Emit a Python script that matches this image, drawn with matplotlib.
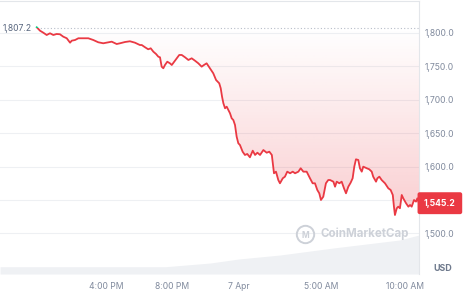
import matplotlib
matplotlib.use("Agg")
import matplotlib.pyplot as plt
import numpy as np
from matplotlib.colors import to_rgb
from matplotlib.patches import Rectangle
import matplotlib.transforms as mtransforms

# ---- data (hours since 6 Apr 00:00) ----
time_h = [11.83, 12.03, 12.23, 12.43, 12.63, 12.83, 13.03, 13.23, 13.43, 13.64,
          13.84, 13.94, 14.14, 14.34, 14.64, 14.94, 15.24, 15.54, 15.84, 16.14,
          16.35, 16.65, 16.85, 17.15, 17.45, 17.75, 18.05, 18.16, 18.36, 18.55,
          18.70, 18.86, 19.02, 19.16, 19.26, 19.36, 19.46, 19.56, 19.70, 19.86,
          19.97, 20.12, 20.27, 20.42, 20.57, 20.77, 20.97, 21.17, 21.37, 21.57,
          21.77, 21.91, 22.07, 22.27, 22.47, 22.64, 22.74, 22.83, 22.92, 23.00,
          23.08, 23.18, 23.28, 23.38, 23.48, 23.58, 23.68, 23.78, 23.88, 23.98,
          24.08, 24.24, 24.38, 24.52, 24.68, 24.85, 24.99, 25.13, 25.29, 25.49,
          25.69, 25.85, 26.00, 26.13, 26.25, 26.39, 26.49, 26.66, 26.79, 26.93,
          27.10, 27.26, 27.40, 27.60, 27.74, 27.90, 28.10, 28.30, 28.46, 28.60,
          28.74, 28.86, 28.96, 29.10, 29.26, 29.40, 29.51, 29.71, 29.81, 29.91,
          30.07, 30.21, 30.35, 30.47, 30.61, 30.75, 30.87, 30.97, 31.07, 31.21,
          31.31, 31.42, 31.51, 31.72, 31.87, 32.02, 32.11, 32.28, 32.36, 32.48,
          32.62, 32.82, 33.02, 33.16, 33.29, 33.36, 33.42, 33.53, 33.62, 33.72,
          33.83, 33.92, 34.09, 34.23, 34.33, 34.43, 34.57, 34.69, 34.77, 34.87]
price = [1808.6, 1803.4, 1800.4, 1797.0, 1799.6, 1797.0, 1798.5, 1798.1, 1794.5, 1792.1,
         1785.5, 1788.5, 1789.5, 1792.1, 1792.1, 1792.1, 1789.5, 1786.1, 1784.6, 1786.1,
         1787.0, 1783.5, 1784.6, 1786.5, 1787.6, 1785.5, 1782.0, 1782.0, 1778.6, 1775.6,
         1777.1, 1772.0, 1768.6, 1764.5, 1763.6, 1749.6, 1747.2, 1752.1, 1757.0, 1754.6,
         1752.1, 1757.0, 1762.1, 1767.1, 1767.1, 1763.6, 1759.6, 1762.1, 1758.5, 1754.6,
         1749.6, 1752.1, 1754.6, 1747.2, 1739.7, 1729.6, 1727.1, 1724.7, 1717.2, 1704.6,
         1694.8, 1687.3, 1689.7, 1684.7, 1679.8, 1672.3, 1669.7, 1662.3, 1644.8, 1634.9,
         1632.3, 1622.3, 1617.4, 1618.9, 1613.9, 1623.8, 1617.4, 1620.8, 1617.4, 1624.8,
         1620.8, 1622.3, 1617.4, 1590.0, 1592.4, 1579.9, 1575.0, 1582.5, 1584.9, 1592.4,
         1590.0, 1592.4, 1590.0, 1592.4, 1597.5, 1592.4, 1592.4, 1582.5, 1575.0, 1575.0,
         1565.0, 1560.0, 1550.0, 1554.9, 1575.0, 1579.9, 1579.9, 1577.4, 1569.9, 1577.4,
         1575.0, 1577.4, 1567.5, 1560.0, 1569.9, 1575.9, 1582.5, 1599.9, 1610.9, 1609.9,
         1597.5, 1592.4, 1599.9, 1597.5, 1596.0, 1592.4, 1584.9, 1577.4, 1582.5, 1584.9,
         1579.9, 1575.0, 1567.5, 1565.0, 1557.5, 1540.0, 1527.5, 1537.6, 1540.0, 1537.6,
         1557.5, 1552.5, 1545.1, 1540.0, 1542.5, 1540.0, 1550.0, 1547.5, 1552.5, 1545.2]

vol_time_h = [9.62, 19.6, 22.3, 24.0, 26.5, 29.7, 33.7, 34.87]
volume_b = [0.73, 0.73, 1.1, 1.5, 1.9, 2.6, 3.4, 3.9]

baseline = 1807.2
last_price = 1545.2
y_ticks = [1500, 1550, 1600, 1650, 1700, 1750, 1800]
x_tick_h = [16, 20, 24, 29, 34]
x_tick_labels = ["4:00 PM", "8:00 PM", "7 Apr", "5:00 AM", "10:00 AM"]

RED = "#ea3943"
GREEN = "#16c784"
GREY = "#808a9d"
GRID = "#eef0f3"
WM = "#cdd1d8"

plt.rcParams["font.family"] = ["Inter", "DejaVu Sans"]

fig = plt.figure(figsize=(4.71, 2.92), dpi=100)
ax = fig.add_axes([0.0, 18 / 292, 419 / 471, 273 / 292])
ax.set_xlim(9.617, 34.87)
ax.set_ylim(1439.2, 1847.9)

# volume area on a hidden twin axis
axv = ax.twinx()
axv.set_ylim(0, 27.3)
axv.fill_between(vol_time_h, 0, volume_b, color="#eff1f4", lw=0, zorder=1)
axv.set_yticks([])
for s in axv.spines.values():
    s.set_visible(False)
ax.set_zorder(axv.get_zorder() + 1)
ax.patch.set_visible(False)

# grid
for yt in y_ticks:
    ax.axhline(yt, color=GRID, lw=0.75, zorder=0)

# gradient fill between line and baseline
t = np.array(time_h)
p = np.array(price)
poly = ax.fill_between(t, p, baseline, facecolor="none", edgecolor="none")
grad = np.linspace(0, 1, 256).reshape(-1, 1)
rgba = np.zeros((256, 1, 4))
rgba[..., :3] = to_rgb(RED)
rgba[..., 3] = (1 - grad[..., 0:1]) * 0.25
im = ax.imshow(rgba, extent=[t[0], t[-1], 1520, baseline], origin="lower",
               aspect="auto", zorder=1, interpolation="bilinear")
im.set_clip_path(poly.get_paths()[0], transform=ax.transData)

# baseline dotted
ax.plot([t[0], 34.87], [baseline, baseline], color="#b8bec9", lw=0.8,
        ls=(0, (1, 2)), zorder=2)
ax.annotate("1,807.2", xy=(0, baseline), xycoords=("axes fraction", "data"),
            xytext=(3, 0), textcoords="offset pixels", color="#58667e",
            fontsize=6.2, va="center", ha="left", zorder=3)

# price line: red below baseline, green above
lr, = ax.plot(t, p, color=RED, lw=1.3, zorder=4, solid_joinstyle="round")
lg, = ax.plot(t, p, color=GREEN, lw=1.3, zorder=4)
rb = Rectangle((0, 1000), 100, baseline - 1000, transform=ax.transData)
ra = Rectangle((0, baseline), 100, 1000, transform=ax.transData)
lr.set_clip_path(rb)
lg.set_clip_path(ra)

# axes styling
for name, s in ax.spines.items():
    s.set_visible(name in ("top", "right"))
    s.set_color("#e3e6ea")
    s.set_linewidth(0.8)
ax.yaxis.tick_right()
ax.set_yticks(y_ticks)
ax.set_yticklabels(["" if v == 1550 else f"{v:,.1f}" for v in y_ticks])
ax.tick_params(axis="y", length=0, pad=4, labelsize=6.2, labelcolor=GREY)
ax.set_xticks(x_tick_h)
ax.set_xticklabels(x_tick_labels)
ax.tick_params(axis="x", length=0, pad=6, labelsize=6.2, labelcolor=GREY)

# current price tag
trans = mtransforms.blended_transform_factory(ax.transAxes, ax.transData)
ax.text(1.0 + 5 / 419, last_price, f"{last_price:,.1f}", transform=trans,
        color="white", fontsize=6.2, fontweight="bold", va="center", ha="left",
        bbox=dict(boxstyle="round,pad=0.75,rounding_size=0.25", fc=RED, ec="none"),
        zorder=6, clip_on=False)

# USD label
ax.text(1.0 + 14 / 419, 1447, "USD", transform=trans, color="#6f7a8d",
        fontsize=6.4, fontweight="bold", va="center", ha="left", clip_on=False)

# watermark
ax.plot([28.0], [1498.5], marker="o", ms=12.5, mfc="none", mec=WM, mew=1.4,
        zorder=3)
ax.text(28.0, 1497.5, "M", color=WM, fontsize=6, ha="center",
        va="center", fontweight="bold", zorder=3)
ax.text(28.95, 1499, "CoinMarketCap", color=WM, fontsize=8.3,
        fontweight="bold", ha="left", va="center", zorder=3)

fig.savefig("out.png", dpi=100)
